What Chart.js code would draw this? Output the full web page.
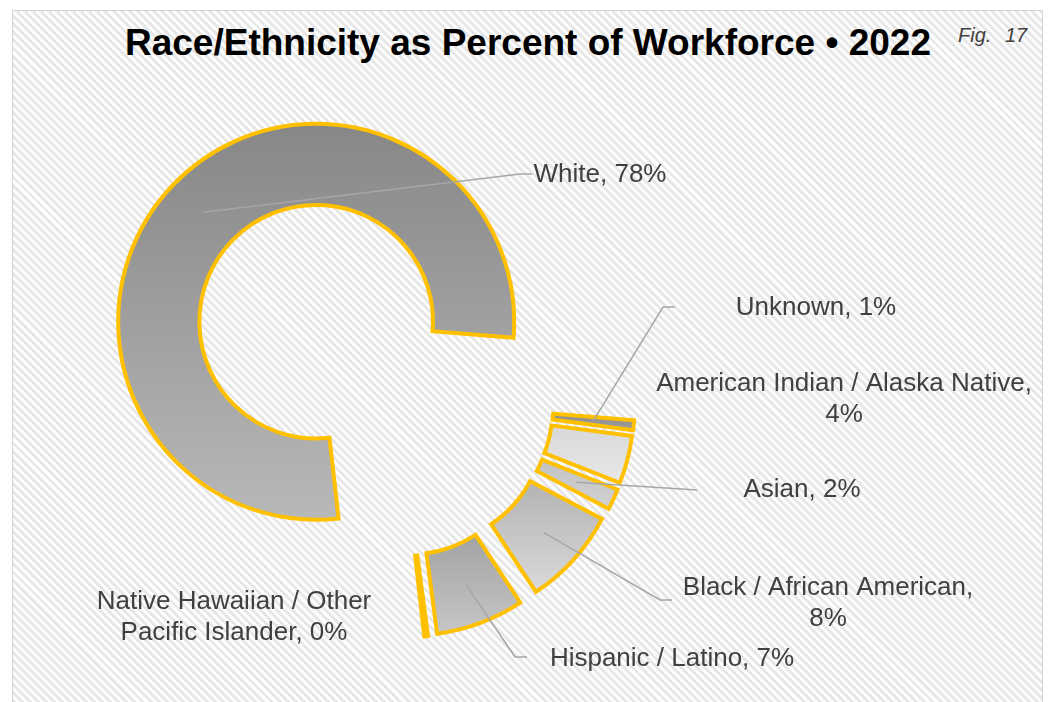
<!DOCTYPE html>
<html>
<head>
<meta charset="utf-8">
<script src="https://cdn.jsdelivr.net/npm/chart.js@4/dist/chart.umd.min.js"></script>
<style>
  html, body { margin: 0; padding: 0; background: #fff; }
  #wrap { position: relative; width: 1054px; height: 702px; overflow: hidden; }
  #panel {
    position: absolute; left: 12px; top: 10px; width: 1029px; height: 700px;
    border: 1px solid #d4d4d4; border-bottom: none;
    background: repeating-linear-gradient(45deg, #e7e7e7 0px, #e7e7e7 2.8px, #fdfdfd 2.8px, #fdfdfd 5.7px);
  }
  #title {
    position: absolute; left: 0; width: 1054px; top: 22px; text-align: center;
    font: bold 37px "Liberation Sans", Arial, sans-serif; color: #000; padding-left: 1px;
  }
  #fig {
    position: absolute; left: 958px; top: 24px;
    font: italic 20px "Liberation Sans", Arial, sans-serif; color: #404040; word-spacing: 8px;
  }
  canvas { position: absolute; left: 0; top: 0; }
</style>
</head>
<body>
<div id="wrap">
  <div id="panel"></div>
  <div id="title">Race/Ethnicity as Percent of Workforce • 2022</div>
  <div id="fig">Fig. 17</div>
  <canvas id="pie" width="1054" height="702"></canvas>
</div>
<script>
// Workforce shares by race/ethnicity, 2022 (percent)
const categories = [
  'White',
  'Unknown',
  'American Indian / Alaska Native',
  'Asian',
  'Black / African American',
  'Hispanic / Latino',
  'Native Hawaiian / Other Pacific Islander'
];
const shares = [78.1, 0.8, 3.9, 1.7, 8.0, 7.2, 0.3];

// how far each slice is pulled out from the centre (px)
const explode = [112.5, 40, 40, 40, 40, 40, 40];

// top / bottom gradient colours of each slice
const fillTop = ['#878787', '#8e8e8e', '#d8d8d8', '#c2c2c2', '#b3b3b3', '#a3a3a3', '#b0b0b0'];
const fillBottom = ['#b8b8b8', '#9c9c9c', '#e8e8e8', '#d2d2d2', '#dadada', '#c6c6c6', '#c4c4c4'];

// label placement: centre x, middle of first line, wrap width, leader path towards the text
const labelLayout = [
  {x: 600, y: 175, w: 300, leader: [[520, 174], [532, 174]]},
  {x: 816, y: 308, w: 300, leader: [[663, 307], [675, 307]]},
  {x: 844, y: 384, w: 390},
  {x: 802, y: 490, w: 300, leader: [[697, 490]]},
  {x: 828, y: 588, w: 300, leader: [[660, 600], [672, 600]]},
  {x: 672, y: 659, w: 300, leader: [[515, 657], [527, 657]]},
  {x: 234, y: 602, w: 290}
];

function sliceGradient(ctx, arc, i) {
  // vertical extent of the ring segment
  let top = Infinity, bottom = -Infinity;
  const steps = 48;
  for (let s = 0; s <= steps; s++) {
    const a = arc.startAngle + (arc.endAngle - arc.startAngle) * s / steps;
    [arc.innerRadius, arc.outerRadius].forEach(r => {
      const y = arc.y + Math.sin(a) * r;
      top = Math.min(top, y); bottom = Math.max(bottom, y);
    });
  }
  const g = ctx.createLinearGradient(0, top, 0, bottom);
  g.addColorStop(0, fillTop[i]);
  g.addColorStop(1, fillBottom[i]);
  return g;
}

// pulls every slice outward along its bisector and gives it its own gradient
const explodePlugin = {
  id: 'explode',
  afterDatasetUpdate(chart, args) {
    args.meta.data.forEach((arc, i) => {
      const mid = (arc.startAngle + arc.endAngle) / 2;
      arc.x += Math.cos(mid) * explode[i];
      arc.y += Math.sin(mid) * explode[i];
      arc.options = Object.assign({}, arc.options, {backgroundColor: sliceGradient(chart.ctx, arc, i)});
    });
  }
};

function wrapText(ctx, text, maxW) {
  const words = text.split(' ');
  const lines = [];
  let cur = '';
  words.forEach(w => {
    const t = cur ? cur + ' ' + w : w;
    if (cur && ctx.measureText(t).width > maxW) { lines.push(cur); cur = w; }
    else cur = t;
  });
  if (cur) lines.push(cur);
  return lines;
}

const labelPlugin = {
  id: 'sliceLabels',
  afterDatasetsDraw(chart) {
    const ctx = chart.ctx;
    const meta = chart.getDatasetMeta(0);
    const total = shares.reduce((a, b) => a + b, 0);
    ctx.save();
    meta.data.forEach((arc, i) => {
      const lay = labelLayout[i];
      if (lay.leader) {
        const p = arc.tooltipPosition();
        ctx.beginPath();
        ctx.moveTo(p.x, p.y);
        lay.leader.forEach(pt => ctx.lineTo(pt[0], pt[1]));
        ctx.strokeStyle = '#a6a6a6';
        ctx.lineWidth = 1.5;
        ctx.stroke();
      }
      ctx.font = '26px "Liberation Sans", Arial, sans-serif';
      ctx.fillStyle = '#404040';
      ctx.textAlign = 'center';
      ctx.textBaseline = 'middle';
      const text = categories[i] + ', ' + Math.round(shares[i] / total * 100) + '%';
      wrapText(ctx, text, lay.w).forEach((line, k) => {
        ctx.fillText(line, lay.x, lay.y + k * 31);
      });
    });
    ctx.restore();
  }
};

new Chart(document.getElementById('pie'), {
  type: 'doughnut',
  data: {
    labels: categories,
    datasets: [{
      data: shares,
      backgroundColor: fillTop,
      borderColor: '#FFC000',
      borderWidth: 4,
      borderJoinStyle: 'miter',
      offset: 0,
      clip: false
    }]
  },
  options: {
    responsive: false,
    animation: false,
    events: [],
    rotation: 173.5,
    radius: 198,
    cutout: '59%',
    layout: {padding: {left: 198, right: 458, top: 200, bottom: 102}},
    plugins: {legend: {display: false}, tooltip: {enabled: false}, title: {display: false}}
  },
  plugins: [explodePlugin, labelPlugin]
});
</script>
</body>
</html>
